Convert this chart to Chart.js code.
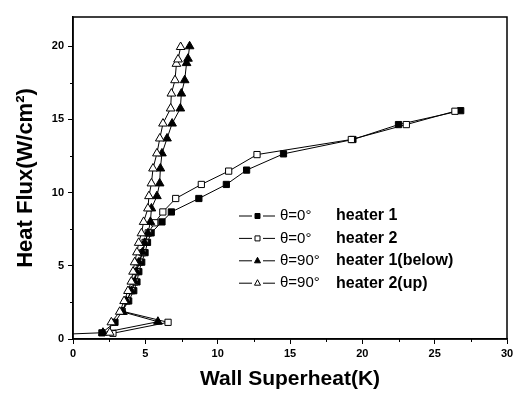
<!DOCTYPE html>
<html><head><meta charset="utf-8">
<script src="https://cdn.jsdelivr.net/npm/chart.js@4/dist/chart.umd.min.js"></script>
<style>html,body{margin:0;padding:0;background:#fff}</style>
</head><body>
<canvas id="c" width="518" height="395"></canvas>
<script>
const xTicks = [0, 5, 10, 15, 20, 25, 30];
const yTicks = [0, 5, 10, 15, 20];
const xMinor = [2.5, 7.5, 12.5, 17.5, 22.5, 27.5];
const yMinor = [2.5, 7.5, 12.5, 17.5];
const seriesNames = ['\u03b8=0\u00b0', '\u03b8=0\u00b0', '\u03b8=90\u00b0', '\u03b8=90\u00b0'];
const seriesHeaters = ['heater 1', 'heater 2', 'heater 1(below)', 'heater 2(up)'];

// theta=0, heater 1 (filled squares)
const sq1X = [2.0, 2.9, 3.85, 4.2, 4.42, 4.55, 4.75, 4.98, 5.15, 5.4, 6.15, 6.8, 8.7, 10.6, 12.0, 14.55, 19.35, 22.5, 26.8];
const sq1Y = [0.42, 1.14, 2.6, 3.3, 3.9, 4.6, 5.25, 5.9, 6.6, 7.25, 8.0, 8.68, 9.6, 10.56, 11.54, 12.65, 13.63, 14.65, 15.6];
// theta=0, heater 2 (open squares)
const sq2X = [2.76, 6.57, 3.4, 3.72, 4.05, 4.28, 4.4, 4.58, 4.82, 4.98, 5.2, 5.65, 6.21, 7.1, 8.87, 10.76, 12.72, 19.24, 23.04, 26.4];
const sq2Y = [0.39, 1.14, 1.9, 2.6, 3.3, 3.9, 4.6, 5.25, 5.9, 6.6, 7.25, 7.94, 8.68, 9.6, 10.56, 11.47, 12.6, 13.63, 14.65, 15.56];
// theta=90, heater 1 below (filled triangles)
const tr1X = [0, 2.07, 5.87, 3.45, 3.69, 4.03, 4.26, 4.38, 4.56, 4.80, 4.95, 5.18, 5.35, 5.42, 5.80, 5.99, 6.04, 6.15, 6.50, 6.85, 7.42, 7.49, 7.72, 7.85, 7.95, 8.06];
const tr1Y = [0.35, 0.43, 1.18, 1.85, 2.59, 3.28, 3.92, 4.60, 5.24, 5.92, 6.57, 7.22, 8.0, 8.92, 9.76, 10.63, 11.65, 12.68, 13.70, 14.72, 15.75, 16.77, 17.68, 18.85, 19.15, 20.0];
// theta=90, heater 2 up (open triangles)
const tr2X = [2.54, 2.65, 3.23, 3.53, 3.80, 4.03, 4.15, 4.26, 4.42, 4.54, 4.73, 4.88, 5.18, 5.25, 5.42, 5.53, 5.80, 6.00, 6.22, 6.75, 6.80, 7.05, 7.15, 7.26, 7.44];
const tr2Y = [0.43, 1.14, 1.86, 2.59, 3.28, 3.92, 4.60, 5.24, 5.92, 6.57, 7.22, 8.0, 8.92, 9.76, 10.63, 11.65, 12.68, 13.70, 14.72, 15.75, 16.77, 17.68, 18.8, 19.1, 19.95];

const pts = (xs, ys) => xs.map((x, i) => ({x: x, y: ys[i]}));
const hideAtZero = r => ctx => (ctx.raw && ctx.raw.x <= 0) ? 0 : r;

const styles = [
  {pointStyle: 'rect', bg: '#000', r: 4.4},
  {pointStyle: 'rect', bg: '#fff', r: 4.4},
  {pointStyle: 'triangle', bg: '#000', r: 5},
  {pointStyle: 'triangle', bg: '#fff', r: 5}
];
const dataSets = [pts(sq1X, sq1Y), pts(sq2X, sq2Y), pts(tr1X, tr1Y), pts(tr2X, tr2Y)];
const orders = [3, 2, 1, 0];

const datasets = dataSets.map((d, i) => ({
  label: seriesNames[i] + ' ' + seriesHeaters[i],
  data: d,
  order: orders[i],
  showLine: true,
  borderColor: '#000',
  borderWidth: 1,
  backgroundColor: styles[i].bg,
  pointStyle: styles[i].pointStyle,
  pointRadius: hideAtZero(styles[i].r),
  pointBackgroundColor: styles[i].bg,
  pointBorderColor: '#000',
  pointBorderWidth: 1,
  tension: 0
}));

const framePlugin = {
  id: 'frame',
  afterDraw(chart) {
    const {ctx, chartArea: a, scales} = chart;
    ctx.save();
    ctx.strokeStyle = '#000';
    ctx.lineWidth = 1.5;
    ctx.strokeRect(a.left, a.top, a.right - a.left, a.bottom - a.top);
    ctx.lineWidth = 1;
    ctx.beginPath();
    xMinor.forEach(v => {
      const p = Math.round(scales.x.getPixelForValue(v)) + 0.5;
      ctx.moveTo(p, a.bottom); ctx.lineTo(p, a.bottom + 3);
    });
    yMinor.forEach(v => {
      const p = Math.round(scales.y.getPixelForValue(v)) + 0.5;
      ctx.moveTo(a.left, p); ctx.lineTo(a.left - 3, p);
    });
    ctx.stroke();

    // legend
    const lx = a.left + 166, rowY0 = a.top + 199, dy = 22.4;
    for (let i = 0; i < 4; i++) {
      const y = rowY0 + i * dy;
      ctx.strokeStyle = '#000';
      ctx.lineWidth = 1;
      ctx.beginPath();
      ctx.moveTo(lx, y); ctx.lineTo(lx + 13, y);
      ctx.moveTo(lx + 24, y); ctx.lineTo(lx + 36, y);
      ctx.stroke();
      const mx = lx + 18.5;
      ctx.fillStyle = styles[i].bg;
      ctx.beginPath();
      if (styles[i].pointStyle === 'rect') {
        ctx.rect(mx - 2.5, y - 2.5, 5, 5);
      } else {
        ctx.moveTo(mx, y - 3.5); ctx.lineTo(mx + 3, y + 2); ctx.lineTo(mx - 3, y + 2); ctx.closePath();
      }
      ctx.fill(); ctx.stroke();
      ctx.fillStyle = '#000';
      ctx.textBaseline = 'middle';
      ctx.textAlign = 'left';
      ctx.font = '15px "Liberation Sans", Arial, sans-serif';
      ctx.fillText(seriesNames[i], lx + 41, y);
      ctx.font = 'bold 16px "Liberation Sans", Arial, sans-serif';
      ctx.fillText(seriesHeaters[i], lx + 97, y);
    }
    ctx.restore();
  }
};

new Chart(document.getElementById('c'), {
  type: 'scatter',
  data: {datasets},
  options: {
    responsive: false,
    animation: false,
    layout: {padding: {top: 17, right: 11, left: 0, bottom: 0}},
    plugins: {legend: {display: false}, tooltip: {enabled: false}},
    scales: {
      x: {
        type: 'linear', min: 0, max: 30,
        afterBuildTicks: s => { s.ticks = xTicks.map(v => ({value: v})); },
        afterFit: s => { s.height = 56; },
        ticks: {color: '#000', padding: 3, font: {family: '"Liberation Sans", Arial, sans-serif', size: 11, weight: 'bold'}},
        grid: {drawOnChartArea: false, tickLength: 5, color: '#000', lineWidth: 1},
        border: {display: true, color: '#000', width: 1.5},
        title: {display: true, text: 'Wall Superheat(K)', color: '#000', padding: {top: 0, bottom: 3},
          font: {family: '"Liberation Sans", Arial, sans-serif', size: 21, weight: 'bold'}}
      },
      y: {
        type: 'linear', min: 0, max: 22,
        afterBuildTicks: s => { s.ticks = yTicks.map(v => ({value: v})); },
        afterFit: s => { s.width = 73; },
        ticks: {color: '#000', padding: 4, font: {family: '"Liberation Sans", Arial, sans-serif', size: 11, weight: 'bold'}},
        grid: {drawOnChartArea: false, tickLength: 5, color: '#000', lineWidth: 1},
        border: {display: true, color: '#000', width: 1.5},
        title: {display: true, text: 'Heat Flux(W/cm\u00b2)', color: '#000', padding: {top: 13, bottom: 0},
          font: {family: '"Liberation Sans", Arial, sans-serif', size: 22, weight: 'bold'}}
      }
    }
  },
  plugins: [framePlugin]
});
</script>
</body></html>
